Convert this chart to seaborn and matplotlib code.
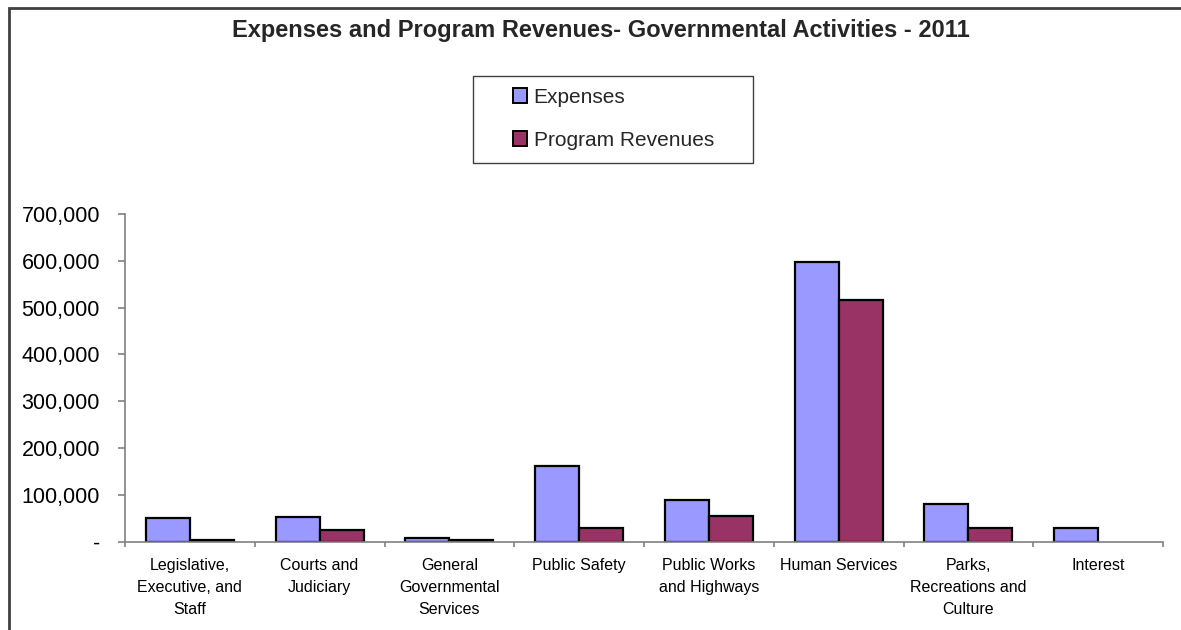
import pandas as pd
import numpy as np
import matplotlib
matplotlib.use('Agg')
import matplotlib.pyplot as plt
from matplotlib.patches import Rectangle
from matplotlib.lines import Line2D
from matplotlib.ticker import FuncFormatter, FixedLocator
import seaborn as sns

# Chart data
categories = ['Legislative,\nExecutive, and\nStaff', 'Courts and\nJudiciary',
              'General\nGovernmental\nServices', 'Public Safety',
              'Public Works\nand Highways', 'Human Services',
              'Parks,\nRecreations and\nCulture', 'Interest']
expenses = [51000, 52000, 8500, 162000, 90000, 598000, 80500, 29000]
program_revenues = [4000, 25000, 3500, 30000, 55500, 517000, 29000, 0]
series_names = ['Expenses', 'Program Revenues']
colors = ['#9999FF', '#993366']

df = pd.DataFrame({
    'Category': categories * 2,
    'Amount': expenses + program_revenues,
    'Series': [series_names[0]] * len(categories) + [series_names[1]] * len(categories),
})

sns.set_style('white')
plt.rcParams['font.family'] = ['Liberation Sans', 'DejaVu Sans']

fig = plt.figure(figsize=(11.81, 6.30), dpi=100)
ax = fig.add_axes([125 / 1181, 1 - 541.7 / 630, (1163 - 125) / 1181, (541.7 - 214) / 630])

sns.barplot(data=df, x='Category', y='Amount', hue='Series', order=categories,
            palette=colors, saturation=1, width=0.68, edgecolor='black',
            linewidth=1.6, ax=ax, legend=True)

# hide outlines of empty bars
for p in ax.patches:
    if p.get_height() == 0:
        p.set_linewidth(0)

ax.set_xlim(-0.5, len(categories) - 0.5)
ax.set_ylim(0, 700000)
ax.set_yticks(np.arange(0, 700001, 100000))
ax.yaxis.set_major_formatter(FuncFormatter(lambda v, _: '-' if v == 0 else f'{int(v):,}'))
ax.set_xlabel('')
ax.set_ylabel('')

for side in ['top', 'right']:
    ax.spines[side].set_visible(False)
for side in ['left', 'bottom']:
    ax.spines[side].set_color('#808080')
    ax.spines[side].set_linewidth(1.2)

ax.tick_params(axis='y', which='major', left=True, length=5, width=1.2, color='#808080',
               pad=13, labelsize=15.5, labelcolor='black')
ax.tick_params(axis='x', which='major', bottom=False, pad=8, labelsize=11.5, labelcolor='black')
ax.xaxis.set_minor_locator(FixedLocator(np.arange(-0.5, len(categories), 1.0)))
ax.tick_params(axis='x', which='minor', bottom=True, length=3.5, width=1.2, color='#808080')
for lbl in ax.get_xticklabels():
    lbl.set_linespacing(1.6)
    lbl.set_horizontalalignment('center')

# legend
handles, labels = ax.get_legend_handles_labels()
ax.get_legend().remove()
leg = fig.legend(handles, labels, loc='upper left',
                 bbox_to_anchor=(496 / 1181, 1 - 71 / 630), frameon=False,
                 fontsize=15, handlelength=0.7, handleheight=0.7,
                 handletextpad=0.3, labelspacing=1.15, borderpad=0.3)
for h in leg.legend_handles:
    h.set_edgecolor('black')
    h.set_linewidth(1.4)

fig.add_artist(Rectangle((473 / 1181, 1 - 163 / 630), (753 - 473) / 1181, (163 - 76) / 630,
                         transform=fig.transFigure, fill=False, edgecolor='#404040',
                         linewidth=1.0))

# outer chart frame (only left and top edges visible)
fx, fy = 8.5 / 1181, 1 - 7.5 / 630
fig.add_artist(Line2D([fx, fx, 1.0], [0.0, fy, fy], transform=fig.transFigure,
                      color='#404040', linewidth=2.0, solid_joinstyle='miter'))

fig.text(601 / 1181, 1 - 30 / 630,
         'Expenses and Program Revenues- Governmental Activities - 2011',
         ha='center', va='center', fontsize=17, fontweight='bold')

fig.savefig('out.png', dpi=100)
